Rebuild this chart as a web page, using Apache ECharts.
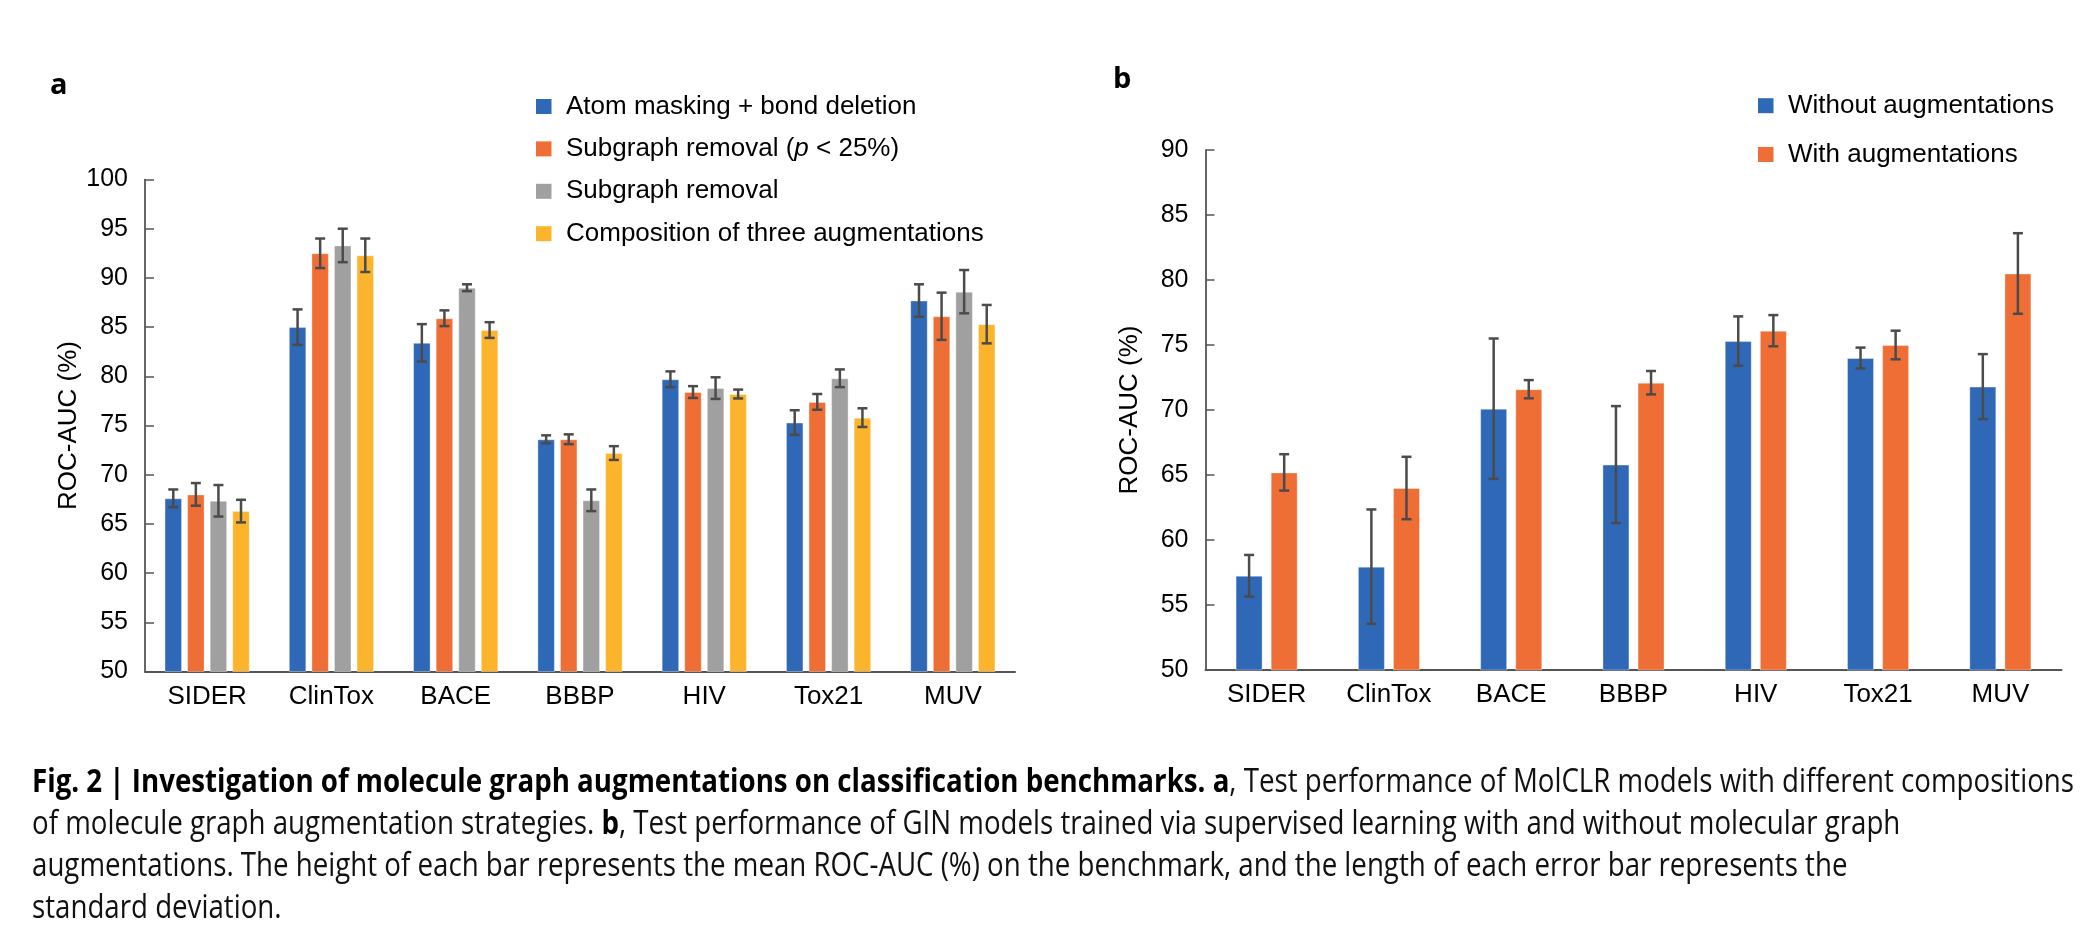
<!DOCTYPE html>
<html>
<head>
<meta charset="utf-8">
<script src="https://cdn.jsdelivr.net/npm/echarts@6/dist/echarts.min.js"></script>
<style>
  html, body { margin: 0; padding: 0; background: #fff; }
  #chart { width: 2094px; height: 934px; }
</style>
</head>
<body>
<div id="chart"></div>
<script>
// benchmarks
var categories = ['SIDER', 'ClinTox', 'BACE', 'BBBP', 'HIV', 'Tox21', 'MUV'];

// panel a: MolCLR with different augmentations (mean, std)
var augNames = ['Atom masking + bond deletion', 'Subgraph removal (p < 25%)', 'Subgraph removal', 'Composition of three augmentations'];
var atomMask = [67.6, 85.0, 83.4, 73.6, 79.7, 75.3, 87.7];
var atomMaskErr = [0.9, 1.8, 1.9, 0.4, 0.8, 1.25, 1.65];
var subgraph25 = [68.0, 92.5, 85.9, 73.6, 78.4, 77.4, 86.1];
var subgraph25Err = [1.15, 1.5, 0.8, 0.5, 0.6, 0.8, 2.4];
var subgraph = [67.35, 93.3, 89.0, 67.4, 78.8, 79.8, 88.6];
var subgraphErr = [1.6, 1.7, 0.35, 1.1, 1.1, 0.9, 2.2];
var composition = [66.3, 92.3, 84.7, 72.2, 78.2, 75.8, 85.3];
var compositionErr = [1.15, 1.7, 0.8, 0.7, 0.45, 0.95, 1.95];

// panel b: GIN supervised (mean, std)
var supNames = ['Without augmentations', 'With augmentations'];
var withoutAug = [57.25, 57.95, 70.1, 65.8, 75.3, 74.0, 71.8];
var withoutAugErr = [1.6, 4.4, 5.4, 4.5, 1.9, 0.8, 2.5];
var withAug = [65.2, 64.0, 71.6, 72.1, 76.1, 75.0, 80.5];
var withAugErr = [1.4, 2.4, 0.7, 0.9, 1.2, 1.1, 3.1];

var yTicksA = { min: 50, max: 100, interval: 5 };
var yTicksB = { min: 50, max: 90, interval: 5 };

var colorsA = ['#2E68B7', '#EF6E35', '#A0A0A0', '#FDB42D'];
var colorsB = ['#2E68B7', '#EF6E35'];

var FONT = '"Liberation Sans", Arial, Helvetica, sans-serif';
var CAP_FONT = '"Open Sans", "Noto Sans", sans-serif';
var ERR_COLOR = '#4B4B4B';

var seriesA = [[atomMask, atomMaskErr], [subgraph25, subgraph25Err], [subgraph, subgraphErr], [composition, compositionErr]];
var seriesB = [[withoutAug, withoutAugErr], [withAug, withAugErr]];

var myChart = echarts.init(document.getElementById('chart'));

function errorRenderer(pitch, count) {
    return function (params, api) {
        var cat = api.value(0), k = api.value(1), mean = api.value(2), err = api.value(3);
        var x = api.coord([cat, mean])[0] + (k - (count - 1) / 2) * pitch;
        var hi = api.coord([cat, mean + err])[1];
        var lo = api.coord([cat, mean - err])[1];
        var cap = 5;
        var st = { stroke: ERR_COLOR, lineWidth: 2.5 };
        return {
            type: 'group',
            children: [
                { type: 'line', shape: { x1: x, y1: hi, x2: x, y2: lo }, style: st },
                { type: 'line', shape: { x1: x - cap, y1: hi, x2: x + cap, y2: hi }, style: st },
                { type: 'line', shape: { x1: x - cap, y1: lo, x2: x + cap, y2: lo }, style: st }
            ]
        };
    };
}

function errData(list) {
    var out = [];
    list.forEach(function (s, k) {
        s[0].forEach(function (v, i) {
            out.push([i, k, v, s[1][i]]);
        });
    });
    return out;
}

function xAxis(idx) {
    return {
        type: 'category',
        gridIndex: idx,
        data: categories,
        axisTick: { show: false },
        axisLine: { lineStyle: { color: '#555', width: 2 } },
        axisLabel: { color: '#000', fontSize: 26, fontFamily: FONT, margin: 12 }
    };
}

function yAxis(idx, t) {
    return {
        type: 'value',
        gridIndex: idx,
        min: t.min, max: t.max, interval: t.interval,
        name: 'ROC-AUC (%)',
        nameLocation: 'middle',
        nameRotate: 90,
        nameGap: 63,
        nameTextStyle: { color: '#000', fontSize: 26, fontFamily: FONT },
        splitLine: { show: false },
        axisLine: { show: true, lineStyle: { color: '#333', width: 1.5 } },
        axisTick: { show: true, inside: true, length: 9, lineStyle: { color: '#555', width: 1.5 } },
        axisLabel: { color: '#000', fontSize: 25, fontFamily: FONT, margin: 17 }
    };
}

var series = [];
seriesA.forEach(function (s, k) {
    series.push({
        type: 'bar', name: augNames[k], xAxisIndex: 0, yAxisIndex: 0,
        data: s[0], barWidth: 17.5, barGap: '29%',
        itemStyle: { color: colorsA[k], borderColor: 'rgba(255,255,255,0.35)', borderWidth: 1 }
    });
});
seriesB.forEach(function (s, k) {
    series.push({
        type: 'bar', name: supNames[k], xAxisIndex: 1, yAxisIndex: 1,
        data: s[0], barWidth: 27, barGap: '30%',
        itemStyle: { color: colorsB[k], borderColor: 'rgba(255,255,255,0.35)', borderWidth: 1 }
    });
});
series.push({
    type: 'custom', name: 'errA', xAxisIndex: 0, yAxisIndex: 0, z: 5,
    renderItem: errorRenderer(17.5 * 1.29, seriesA.length),
    encode: { x: 0, y: 2 }, data: errData(seriesA)
});
series.push({
    type: 'custom', name: 'errB', xAxisIndex: 1, yAxisIndex: 1, z: 5,
    renderItem: errorRenderer(27 * 1.3, seriesB.length),
    encode: { x: 0, y: 2 }, data: errData(seriesB)
});

// legends drawn as graphics so the swatch/text spacing matches
var graphics = [];
function addLegend(names, colors, left, top0, step) {
    names.forEach(function (n, i) {
        var cy = top0 + i * step;
        graphics.push({ type: 'rect', left: left, top: cy - 7.5, shape: { width: 15.5, height: 15 }, style: { fill: colors[i] } });
        var txt = n.replace('(p ', '({i|p} ');
        graphics.push({
            type: 'text', x: left + 30, y: cy,
            style: {
                text: txt, fill: '#000', font: '26px ' + FONT, verticalAlign: 'middle',
                rich: { i: { fontStyle: 'italic', fontSize: 26, fontFamily: FONT } }
            }
        });
    });
}
addLegend(augNames, colorsA, 536, 106.5, 42.4);
addLegend(supNames, colorsB, 1758, 105.7, 48.8);

// panel letters
graphics.push({ type: 'text', x: 50, y: 86, style: { text: 'a', fill: '#000', font: 'bold 29px ' + CAP_FONT, verticalAlign: 'middle' } });
graphics.push({ type: 'text', x: 1113, y: 80, style: { text: 'b', fill: '#000', font: 'bold 29px ' + CAP_FONT, verticalAlign: 'middle' } });

// caption (condensed by horizontal scale to match the journal font width)
var capSize = 33;
var capLines = [
    [['b', 'Fig. 2 | Investigation of molecule graph augmentations on classification benchmarks. a'], ['r', ', Test performance of MolCLR models with different compositions']],
    [['r', 'of molecule graph augmentation strategies. '], ['b', 'b'], ['r', ', Test performance of GIN models trained via supervised learning with and without molecular graph']],
    [['r', 'augmentations. The height of each bar represents the mean ROC-AUC (%) on the benchmark, and the length of each error bar represents the']],
    [['r', 'standard deviation.']]
];
var ctx = document.createElement('canvas').getContext('2d');
var w1 = 0;
capLines[0].forEach(function (p) {
    ctx.font = (p[0] === 'b' ? 'bold ' : '') + capSize + 'px ' + CAP_FONT;
    w1 += ctx.measureText(p[1]).width;
});
var capScale = 2042 / w1;
var baselines = [794, 836, 878, 920];
capLines.forEach(function (line, i) {
    var txt = line.map(function (p) { return '{' + p[0] + '|' + p[1] + '}'; }).join('');
    graphics.push({
        type: 'text', x: 32, y: baselines[i] - 11, scaleX: capScale, originX: 0,
        style: {
            text: txt, verticalAlign: 'middle',
            rich: {
                b: { fontWeight: 'bold', fontSize: capSize, fontFamily: CAP_FONT, fill: '#000' },
                r: { fontSize: capSize, fontFamily: CAP_FONT, fill: '#111' }
            }
        }
    });
});

myChart.setOption({
    animation: false,
    grid: [
        { left: 145, top: 179.5, width: 870, height: 492 },
        { left: 1205.5, top: 150, width: 856, height: 520 }
    ],
    xAxis: [xAxis(0), xAxis(1)],
    yAxis: [yAxis(0, yTicksA), yAxis(1, yTicksB)],
    series: series,
    graphic: graphics
});
</script>
</body>
</html>
